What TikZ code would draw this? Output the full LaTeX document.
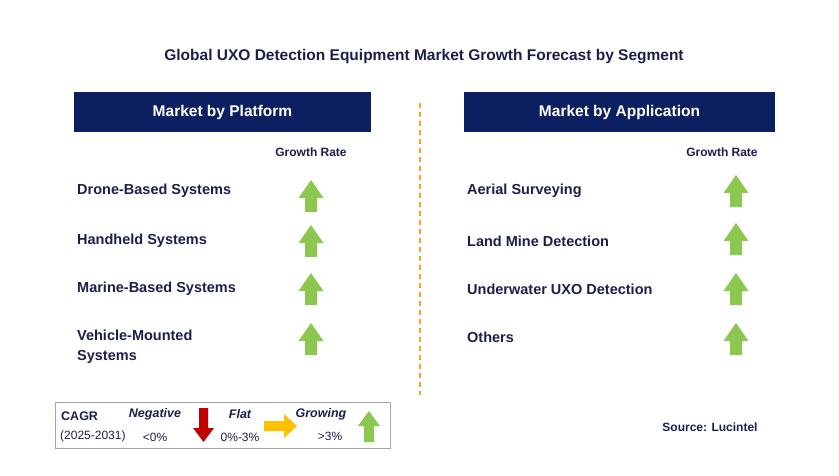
\documentclass[tikz,border=0pt]{standalone}
\usepackage{fontspec}
\setmainfont{Liberation Sans}
\definecolor{navy}{HTML}{0C2061}
\definecolor{txt}{HTML}{1B1F4B}
\definecolor{grn}{HTML}{8CC850}
\definecolor{rd}{HTML}{C00000}
\definecolor{yl}{HTML}{FFC000}
\definecolor{org}{HTML}{F5A623}
\begin{document}
\begin{tikzpicture}[x=1pt,y=-1pt,
  hdr/.style={fill=navy,text=white,font=\bfseries\fontsize{15.5}{18}\selectfont,minimum height=40pt,inner sep=0pt},
  lbl/.style={anchor=west,text=txt,font=\bfseries\fontsize{14.5}{20}\selectfont,align=left,inner sep=0pt},
  gr/.style={text=txt,font=\bfseries\fontsize{12}{14}\selectfont,inner sep=0pt},
  lg/.style={text=txt,font=\fontsize{12}{14}\selectfont,inner sep=0pt},
  lgb/.style={text=txt,font=\bfseries\itshape\fontsize{12.5}{14}\selectfont,inner sep=0pt},
  up/.pic={\fill[grn] (-6,16)--(-6,2)--(-12.5,2)--(0,-16)--(12.5,2)--(6,2)--(6,16)--cycle;}]
\useasboundingbox (0,0) rectangle (839,476);
\node[text=txt,font=\bfseries\fontsize{15.5}{18}\selectfont] (title) at (424,57) {Global UXO Detection Equipment Market Growth Forecast by Segment};
\node[hdr,minimum width=297pt] (h1) at (222.5,112) {Market by Platform};
\node[hdr,minimum width=311pt] (h2) at (619.5,112) {Market by Application};
\draw[org,line width=1.3pt,dash pattern=on 5pt off 4pt] (420,103)--(420,395);
\node[gr] (g1) at (311,152) {Growth Rate};
\node[gr] (g2) at (722,152) {Growth Rate};
\foreach \t/\y [count=\i] in {Drone-Based Systems/191,Handheld Systems/241,Marine-Based Systems/289,{Vehicle-Mounted\\Systems}/347}{
  \node[lbl] (l\i) at (77,\y) {\t};}
\foreach \y [count=\i] in {196,241,289,339}{\pic (a\i) at (311,\y) {up};}
\foreach \t/\y [count=\i] in {Aerial Surveying/191,Land Mine Detection/241,Underwater UXO Detection/289,Others/337}{
  \node[lbl] (r\i) at (467,\y) {\t};}
\foreach \y [count=\i] in {191,239,289,339}{\pic (b\i) at (736,\y) {up};}
% legend
\draw[gray!70,line width=1pt] (55,402) rectangle (390,448);
\node[anchor=west,text=txt,font=\bfseries\fontsize{12.5}{14}\selectfont,inner sep=0pt] (c1) at (61,416) {CAGR};
\node[anchor=west,lg] (c2) at (60,436) {(2025-2031)};
\node[lgb] (n1) at (155,414) {Negative};
\node[lg] (n2) at (155,437) {<0\%};
\fill[rd] (199,408)--(208,408)--(208,428)--(214,428)--(203.5,442)--(193,428)--(199,428)--cycle;
\node[lgb] (f1) at (240,414) {Flat};
\node[lg] (f2) at (240,437) {0\%-3\%};
\fill[yl] (264,421)--(284,421)--(284,414)--(297,426)--(284,438)--(284,431)--(264,431)--cycle;
\node[lgb] (w1) at (321,414) {Growing};
\node[lg] (w2) at (330,436) {>3\%};
\fill[grn] (364,442)--(364,426)--(358,426)--(369,411)--(380,426)--(374,426)--(374,442)--cycle;
\node[gr] (src) at (710,427) {Source: Lucintel};
\end{tikzpicture}
\end{document}
